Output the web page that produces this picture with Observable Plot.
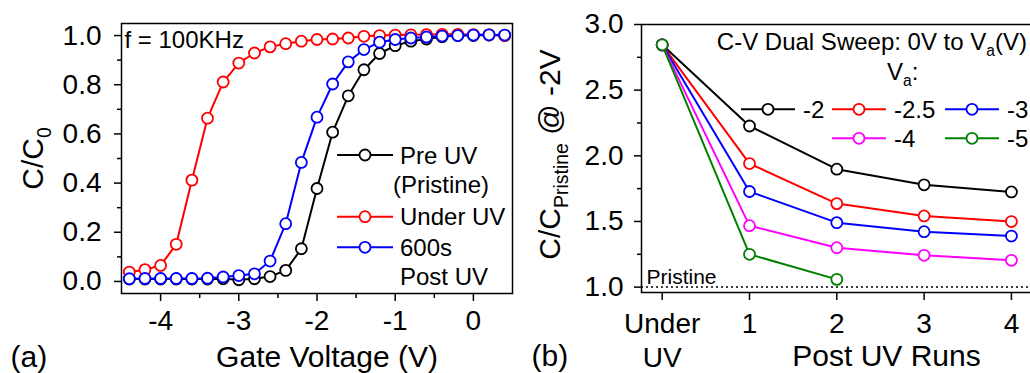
<!DOCTYPE html>
<html><head><meta charset="utf-8">
<script src="https://cdn.jsdelivr.net/npm/d3@7"></script>
<script src="https://cdn.jsdelivr.net/npm/@observablehq/plot@0.6"></script>
<style>
body{margin:0;background:#fff;}
#wrap{position:relative;width:1030px;height:373px;overflow:hidden;background:#fff;font-family:"Liberation Sans",Arial,sans-serif;}
#wrap > svg{position:absolute;top:0;}
</style></head><body><div id="wrap"></div>
<script>
// ---------- data: panel (a) ----------
const gateVoltage = [-4.4,-4.2,-4.0,-3.8,-3.6,-3.4,-3.2,-3.0,-2.8,-2.6,-2.4,-2.2,-2.0,-1.8,-1.6,-1.4,-1.2,-1.0,-0.8,-0.6,-0.4,-0.2,0,0.2,0.4];
const preUV    = [0.010,0.010,0.010,0.010,0.010,0.010,0.011,0.007,0.011,0.020,0.045,0.133,0.378,0.607,0.755,0.861,0.927,0.959,0.977,0.986,0.995,1.000,1.000,1.002,1.000];
const underUV  = [0.038,0.048,0.065,0.151,0.412,0.664,0.811,0.888,0.929,0.954,0.967,0.977,0.984,0.986,0.990,0.997,1.000,1.002,1.003,1.004,1.005,1.005,1.004,1.003,1.000];
const post600s = [0.011,0.012,0.012,0.012,0.012,0.013,0.018,0.024,0.031,0.083,0.235,0.484,0.668,0.803,0.893,0.943,0.973,0.984,0.990,0.994,0.998,1.000,1.002,1.003,1.002];
const gateTicks = [-4,-3,-2,-1,0];
const gateMinor = [-3.5,-2.5,-1.5,-0.5];
const ratioTicks = [0,0.2,0.4,0.6,0.8,1.0];
const ratioMinor = [0.1,0.3,0.5,0.7,0.9];

// ---------- data: panel (b) ----------
const runs = [0,1,2,3,4];
const runTickLabels = ["Under\nUV","1","2","3","4"];
const va2  = [2.845,2.227,1.898,1.779,1.725];
const va25 = [2.845,1.941,1.636,1.542,1.499];
const va3  = [2.845,1.728,1.491,1.422,1.389];
const va4  = [2.845,1.468,1.300,1.242,1.204];
const va5  = [2.845,1.250,1.059];
const cTicks = [1.0,1.5,2.0,2.5,3.0];
const cMinor = [1.25,1.75,2.25,2.75];
const vaLabels = ["-2","-2.5","-3","-4","-5"];

const FONT = '"Liberation Sans", Arial, sans-serif';
const COL = {black:"#000000", red:"#ff0000", blue:"#0000ff", magenta:"#ff00ff", green:"#008000"};
const rows = (xs, ys) => ys.map((y, i) => ({x: xs[i], y}));

function seriesMarks(data, color) {
  return [
    Plot.line(data, {x: "x", y: "y", stroke: color, strokeWidth: 2}),
    Plot.dot(data, {x: "x", y: "y", r: 5.5, stroke: color, strokeWidth: 1.8, fill: "white"})
  ];
}

const wrap = document.getElementById("wrap");

// ---------- panel (a) ----------
const left = Plot.plot({
  width: 530, height: 373,
  marginLeft: 121, marginRight: 18, marginTop: 23, marginBottom: 80,
  style: {fontFamily: FONT, fontSize: "28px", color: "#000", background: "transparent", overflow: "visible"},
  x: {domain: [-4.5, 0.5]},
  y: {domain: [-0.049, 1.049]},
  marks: [
    Plot.axisX(gateTicks, {tickSize: 8, tickPadding: 9, strokeWidth: 1.5, tickFormat: d => String(d), label: null}),
    Plot.axisX(gateMinor, {tickSize: 5, strokeWidth: 1.5, fill: "none", label: null}),
    Plot.axisY(ratioTicks, {tickSize: 7, tickPadding: 13, strokeWidth: 1.5, tickFormat: d => d.toFixed(1), label: null}),
    Plot.axisY(ratioMinor, {tickSize: 4, strokeWidth: 1.5, fill: "none", label: null}),
    ...seriesMarks(rows(gateVoltage, preUV), COL.black),
    ...seriesMarks(rows(gateVoltage, underUV), COL.red),
    ...seriesMarks(rows(gateVoltage, post600s), COL.blue),
    Plot.frame({stroke: "#000", strokeWidth: 1.5}),
    Plot.text(["f = 100KHz"], {frameAnchor: "top-left", textAnchor: "start", lineAnchor: "top", dx: 3, dy: 7, fontSize: 24}),
    Plot.text(["C/C_{0}"], {frameAnchor: "left", textAnchor: "middle", lineAnchor: "middle", rotate: -90, dx: -88, fontSize: 30}),
    Plot.text(["Gate Voltage (V)"], {frameAnchor: "bottom", textAnchor: "middle", lineAnchor: "middle", dx: 10, dy: 64, fontSize: 30}),
    Plot.text(["(a)"], {frameAnchor: "bottom-left", textAnchor: "start", lineAnchor: "middle", dx: -111, dy: 64, fontSize: 30})
  ]
});
left.style.left = "0px";
wrap.appendChild(left);

// ---------- panel (b) ----------
const right = Plot.plot({
  width: 506, height: 373,
  marginLeft: 116, marginRight: 0, marginTop: 24, marginBottom: 81,
  style: {fontFamily: FONT, fontSize: "28px", color: "#000", background: "transparent", overflow: "visible"},
  x: {domain: [-0.237, 4.23]},
  y: {domain: [0.959, 3.0]},
  marks: [
    Plot.ruleY([1], {stroke: "#000", strokeWidth: 1.5, strokeDasharray: "2,3"}),
    Plot.axisX(runs, {tickSize: 8, tickPadding: 9, strokeWidth: 1.5, tickFormat: i => runTickLabels[i], lineHeight: 1.2, label: null}),
    Plot.axisY(cTicks, {tickSize: 7, tickPadding: 11, strokeWidth: 1.5, tickFormat: d => d.toFixed(1), label: null}),
    Plot.axisY(cMinor, {tickSize: 4, strokeWidth: 1.5, fill: "none", label: null}),
    ...seriesMarks(rows(runs, va2), COL.black),
    ...seriesMarks(rows(runs, va25), COL.red),
    ...seriesMarks(rows(runs, va3), COL.blue),
    ...seriesMarks(rows(runs, va4), COL.magenta),
    ...seriesMarks(rows(runs, va5), COL.green),
    Plot.frame({stroke: "#000", strokeWidth: 1.5}),
    Plot.text(["Pristine"], {frameAnchor: "bottom-left", textAnchor: "start", lineAnchor: "bottom", dx: 5, dy: -9, fontSize: 21}),
    Plot.text(["C/C_{Pristine} @ -2V"], {frameAnchor: "left", textAnchor: "middle", lineAnchor: "middle", rotate: -90, dx: -91, dy: -4, fontSize: 30}),
    Plot.text(["Post UV Runs"], {frameAnchor: "bottom", textAnchor: "middle", lineAnchor: "middle", dx: 50, dy: 64, fontSize: 30}),
    Plot.text(["(b)"], {frameAnchor: "bottom-left", textAnchor: "start", lineAnchor: "middle", dx: -110, dy: 64, fontSize: 30})
  ]
});
right.style.left = "525px";
wrap.appendChild(right);

// ---------- legends (overlay) ----------
const ov = d3.select(wrap).append("svg")
  .attr("width", 1030).attr("height", 373)
  .style("left", "0px").style("font-family", FONT).style("pointer-events", "none");

function swatch(g, x0, x1, y, color) {
  g.append("line").attr("x1", x0).attr("x2", x1).attr("y1", y).attr("y2", y)
    .attr("stroke", color).attr("stroke-width", 2);
  g.append("circle").attr("cx", (x0 + x1) / 2).attr("cy", y).attr("r", 5.5)
    .attr("stroke", color).attr("stroke-width", 1.8).attr("fill", "white");
}
function label(g, x, y, s, anchor = "start", size = 24) {
  g.append("text").attr("x", x).attr("y", y).attr("font-size", size)
    .attr("text-anchor", anchor).attr("fill", "#000").text(s);
}
const base = 8.6; // baseline offset from row centre for 24px text

// left legend
const lg = ov.append("g");
const leftEntries = [
  {lines: ["Pre UV", "(Pristine)"], color: COL.black, cy: 155},
  {lines: ["Under UV"], color: COL.red, cy: 216.7},
  {lines: ["600s", "Post UV"], color: COL.blue, cy: 247.3}
];
leftEntries.forEach(e => {
  swatch(lg, 337, 393, e.cy, e.color);
  label(lg, 400, e.cy + base, e.lines[0]);
  if (e.lines[1]) label(lg, e.lines[1].startsWith("(") ? 393 : 400, e.cy + 29.5 + base, e.lines[1]);
});

// right legend
const rg = ov.append("g");
label(rg, 1027, 49.5, "C-V Dual Sweep: 0V to V_{a}(V)", "end");
label(rg, 887, 80, "V_{a}:");
const rightColors = [COL.black, COL.red, COL.blue, COL.magenta, COL.green];
const slots = [
  {x0: 741, cy: 109.3}, {x0: 832, cy: 109.3}, {x0: 945, cy: 109.3},
  {x0: 832, cy: 138.3}, {x0: 945, cy: 138.3}
];
slots.forEach((s, i) => {
  swatch(rg, s.x0, s.x0 + 54, s.cy, rightColors[i]);
  label(rg, s.x0 + 62, s.cy + base, vaLabels[i]);
});

// ---------- subscripts: "_{...}" -> tspan ----------
function subscripts(root) {
  root.querySelectorAll("text").forEach(t => {
    const s = t.textContent;
    if (!s.includes("_{")) return;
    const fs = parseFloat(getComputedStyle(t).fontSize);
    t.textContent = "";
    let shifted = false;
    for (const p of s.split(/(_\{[^}]*\})/)) {
      if (!p) continue;
      const ts = document.createElementNS("http://www.w3.org/2000/svg", "tspan");
      if (p.startsWith("_{")) {
        ts.textContent = p.slice(2, -1);
        ts.setAttribute("font-size", (fs * 0.65).toFixed(1));
        ts.setAttribute("dy", (fs * 0.25).toFixed(1));
        shifted = true;
      } else {
        ts.textContent = p;
        if (shifted) { ts.setAttribute("dy", (-fs * 0.25).toFixed(1)); shifted = false; }
      }
      t.appendChild(ts);
    }
  });
}
subscripts(wrap);
</script>
</body></html>
